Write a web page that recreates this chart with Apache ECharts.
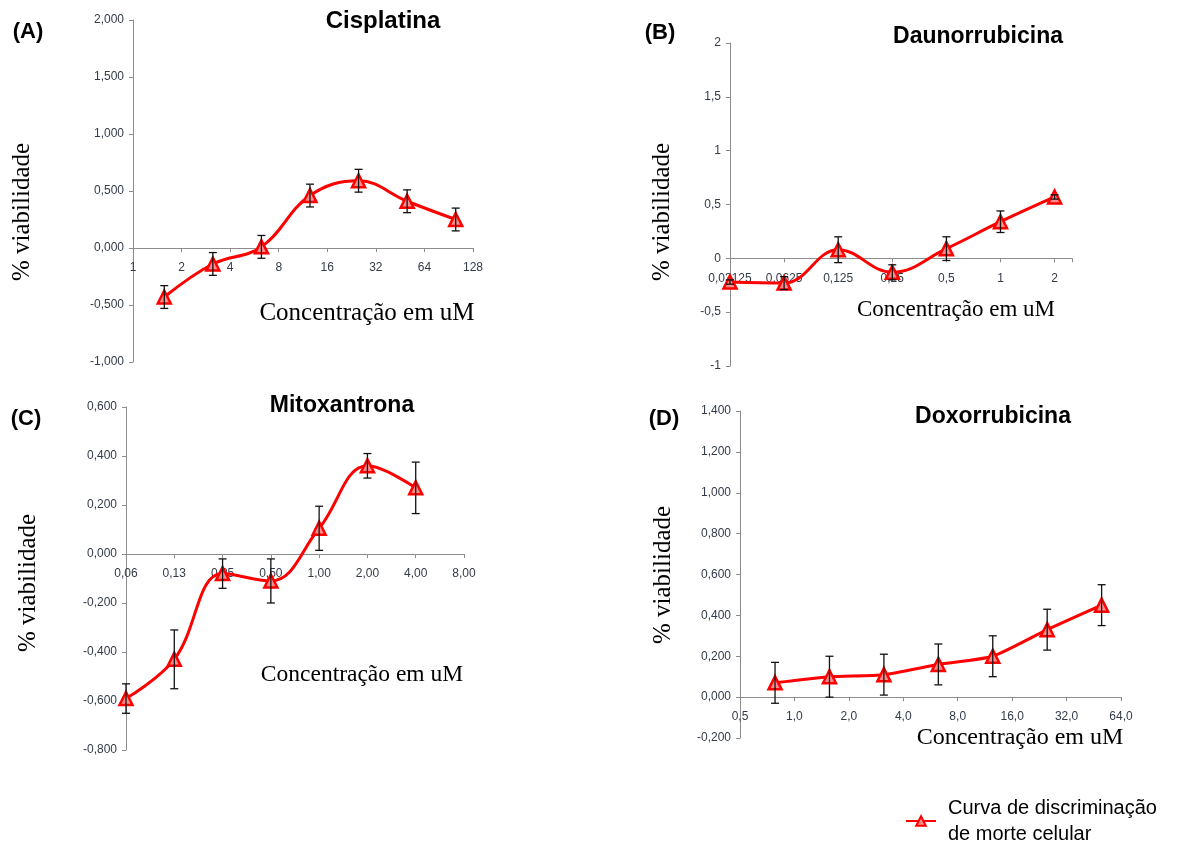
<!DOCTYPE html>
<html>
<head>
<meta charset="utf-8">
<script src="https://cdn.jsdelivr.net/npm/echarts@6/dist/echarts.min.js"></script>
<style>
  html, body { margin: 0; padding: 0; background: #fff; }
  #chart { width: 1177px; height: 847px; }
</style>
</head>
<body>
<div id="chart"></div>
<script>
// concentrações (uM), viabilidade e erro de cada painel
const concA = [1.5625, 3.125, 6.25, 12.5, 25, 50, 100]
const viabA = [-0.43, -0.14, 0.01, 0.46, 0.59, 0.41, 0.25]
const errA = [0.1, 0.1, 0.1, 0.1, 0.1, 0.1, 0.1]

const concB = [0.03125, 0.0625, 0.125, 0.25, 0.5, 1, 2]
const viabB = [-0.22, -0.23, 0.08, -0.13, 0.09, 0.34, 0.57]
const errB = [0.02, 0.06, 0.12, 0.07, 0.11, 0.1, 0.02]

const concC = [0.0625, 0.125, 0.25, 0.5, 1, 2, 4]
const viabC = [-0.59, -0.43, -0.08, -0.11, 0.105, 0.36, 0.27]
const errC = [0.06, 0.12, 0.06, 0.09, 0.09, 0.05, 0.105]

const concD = [0.78125, 1.5625, 3.125, 6.25, 12.5, 25, 50]
const viabD = [0.07, 0.1, 0.11, 0.16, 0.2, 0.33, 0.45]
const errD = [0.1, 0.1, 0.1, 0.1, 0.1, 0.1, 0.1]

// rótulos do eixo x
const xTicksA = [1, 2, 4, 8, 16, 32, 64, 128]
const xLabelsA = ['1', '2', '4', '8', '16', '32', '64', '128']
const xTicksB = [0.03125, 0.0625, 0.125, 0.25, 0.5, 1, 2]
const xLabelsB = ['0,03125', '0,0625', '0,125', '0,25', '0,5', '1', '2']
const xTicksC = [0.0625, 0.125, 0.25, 0.5, 1, 2, 4, 8]
const xLabelsC = ['0,06', '0,13', '0,25', '0,50', '1,00', '2,00', '4,00', '8,00']
const xTicksD = [0.5, 1, 2, 4, 8, 16, 32, 64]
const xLabelsD = ['0,5', '1,0', '2,0', '4,0', '8,0', '16,0', '32,0', '64,0']

// faixas do eixo y: [min, max, intervalo]
const yRangeA = [-1, 2, 0.5]
const yRangeB = [-1, 2, 0.5]
const yRangeC = [-0.8, 0.6, 0.2]
const yRangeD = [-0.2, 1.4, 0.2]

const titles = ['Cisplatina', 'Daunorrubicina', 'Mitoxantrona', 'Doxorrubicina']
const letters = ['(A)', '(B)', '(C)', '(D)']
const seriesName = 'Curva de discriminação\nde morte celular'

const RED = '#ff0000'
const LABEL_COLOR = '#333a48'
const AXIS_COLOR = '#8c8c8c'

const grids = [
  { left: 133, top: 20, width: 340, height: 342 },
  { left: 730, top: 43, width: 342, height: 323 },
  { left: 126, top: 407, width: 338, height: 343 },
  { left: 740, top: 411, width: 381, height: 327 },
]

const chart = echarts.init(document.getElementById('chart'), null, { renderer: 'canvas' })

function xLabelFmt(ticks, labels) {
  return v => {
    for (let i = 0; i < ticks.length; i++) {
      if (Math.abs(Math.log2(v) - Math.log2(ticks[i])) < 0.02) return labels[i]
    }
    return ''
  }
}

// eixo x cruza o eixo y no zero (como no Excel): desloca o eixo inteiro, com rótulos
function xAxisCfg(idx, min, max, ticks, labels, yRange) {
  const h = grids[idx].height
  const zeroShift = (0 - yRange[0]) / (yRange[1] - yRange[0]) * h
  return {
    gridIndex: idx,
    type: 'log',
    logBase: 2,
    min, max,
    offset: -zeroShift,
    axisLine: { onZero: false, lineStyle: { color: AXIS_COLOR, width: 1 } },
    axisTick: { show: true, length: 4, lineStyle: { color: AXIS_COLOR } },
    splitLine: { show: false },
    axisLabel: {
      color: LABEL_COLOR, fontSize: 12, fontFamily: 'Liberation Sans',
      margin: 14, formatter: xLabelFmt(ticks, labels),
    },
  }
}

function yAxisCfg(idx, yRange, digits) {
  return {
    gridIndex: idx,
    type: 'value',
    min: yRange[0], max: yRange[1], interval: yRange[2],
    axisLine: { show: true, onZero: false, lineStyle: { color: AXIS_COLOR, width: 1 } },
    axisTick: { show: true, length: 4, lineStyle: { color: AXIS_COLOR } },
    splitLine: { show: false },
    axisLabel: {
      color: LABEL_COLOR, fontSize: 12, fontFamily: 'Liberation Sans', margin: 9,
      formatter: v => {
        const s = digits == null ? String(Math.round(v * 10) / 10) : v.toFixed(digits)
        return s.replace('.', ',')
      },
    },
  }
}

function lineSeries(idx, conc, viab, smooth) {
  return {
    name: seriesName,
    type: 'line',
    xAxisIndex: idx, yAxisIndex: idx,
    data: conc.map((c, i) => [c, viab[i]]),
    smooth,
    symbol: 'triangle',
    symbolSize: 13,
    lineStyle: { color: RED, width: 3 },
    itemStyle: { color: '#ff8c8c', borderColor: RED, borderWidth: 2.5 },
    z: 2,
  }
}

function errorSeries(idx, conc, viab, err) {
  return {
    name: 'erro' + idx,
    type: 'custom',
    xAxisIndex: idx, yAxisIndex: idx,
    data: conc.map((c, i) => [c, viab[i] - err[i], viab[i] + err[i]]),
    encode: { x: 0, y: [1, 2] },
    z: 3,
    silent: true,
    renderItem: (params, api) => {
      const x = api.value(0)
      const lo = api.coord([x, api.value(1)])
      const hi = api.coord([x, api.value(2)])
      const w = 4
      const st = { stroke: '#111', lineWidth: 1.3 }
      return {
        type: 'group',
        children: [
          { type: 'line', shape: { x1: lo[0], y1: lo[1], x2: hi[0], y2: hi[1] }, style: st },
          { type: 'line', shape: { x1: lo[0] - w, y1: lo[1], x2: lo[0] + w, y2: lo[1] }, style: st },
          { type: 'line', shape: { x1: hi[0] - w, y1: hi[1], x2: hi[0] + w, y2: hi[1] }, style: st },
        ],
      }
    },
  }
}

function txt(text, x, y, font, rotation) {
  return {
    type: 'text', x, y, rotation: rotation || 0,
    style: { text, font, fill: '#000', align: 'center', verticalAlign: 'middle' },
  }
}

const letterFont = 'bold 22px "Liberation Sans"'
const serif = '"Liberation Serif"'

chart.setOption({
  animation: false,
  grid: grids,
  xAxis: [
    xAxisCfg(0, 1, 128, xTicksA, xLabelsA, yRangeA),
    xAxisCfg(1, 0.03125, 2.5, xTicksB, xLabelsB, yRangeB),
    xAxisCfg(2, 0.0625, 8, xTicksC, xLabelsC, yRangeC),
    xAxisCfg(3, 0.5, 64, xTicksD, xLabelsD, yRangeD),
  ],
  yAxis: [
    yAxisCfg(0, yRangeA, 3),
    yAxisCfg(1, yRangeB, null),
    yAxisCfg(2, yRangeC, 3),
    yAxisCfg(3, yRangeD, 3),
  ],
  legend: {
    data: [seriesName],
    left: 900, top: 790,
    itemWidth: 30, itemHeight: 12,
    textStyle: { color: '#000', fontSize: 20, fontFamily: 'Liberation Sans', lineHeight: 26, padding: [0, 0, 0, 7] },
  },
  graphic: [
    txt(letters[0], 28, 32, letterFont),
    txt(titles[0], 383, 21, 'bold 24px "Liberation Sans"'),
    txt('% viabilidade', 22, 212, '25px ' + serif, Math.PI / 2),
    txt('Concentração em uM', 367, 313, '25px ' + serif),

    txt(letters[1], 660, 33, letterFont),
    txt(titles[1], 978, 37, 'bold 23px "Liberation Sans"'),
    txt('% viabilidade', 662, 212, '25px ' + serif, Math.PI / 2),
    txt('Concentração em uM', 956, 310, '23px ' + serif),

    txt(letters[2], 26, 419, letterFont),
    txt(titles[2], 342, 406, 'bold 23px "Liberation Sans"'),
    txt('% viabilidade', 28, 583, '25px ' + serif, Math.PI / 2),
    txt('Concentração em uM', 362, 675, '23.5px ' + serif),

    txt(letters[3], 664, 419, letterFont),
    txt(titles[3], 993, 417, 'bold 23px "Liberation Sans"'),
    txt('% viabilidade', 663, 575, '25px ' + serif, Math.PI / 2),
    txt('Concentração em uM', 1020, 738, '24px ' + serif),
  ],
  series: [
    lineSeries(0, concA, viabA, 0.4),
    lineSeries(1, concB, viabB, 0.4),
    lineSeries(2, concC, viabC, 0.4),
    lineSeries(3, concD, viabD, 0.2),
    errorSeries(0, concA, viabA, errA),
    errorSeries(1, concB, viabB, errB),
    errorSeries(2, concC, viabC, errC),
    errorSeries(3, concD, viabD, errD),
  ],
})

window.addEventListener('resize', () => chart.resize())
</script>
</body>
</html>
